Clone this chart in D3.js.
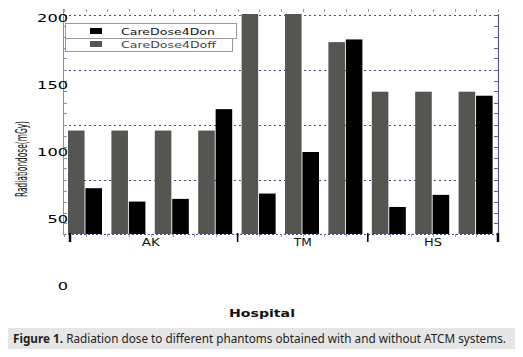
<!DOCTYPE html>
<html>
<head>
<meta charset="utf-8">
<script src="https://cdn.jsdelivr.net/npm/d3@7"></script>
<style>
  html, body { margin: 0; padding: 0; background: #fff; }
  svg { display: block; }
</style>
</head>
<body>
<svg id="chart" width="523" height="357"></svg>
<script>
// ---------- data ----------
const hospitals = ["AK", "TM", "HS"];
const pairHospital = ["AK", "AK", "AK", "AK", "TM", "TM", "TM", "HS", "HS", "HS"];
const doseOn  = [73, 63, 65, 132, 69, 100, 184, 59, 68, 142];   // CareDose4Don (black)
const doseOff = [116, 116, 116, 116, 203, 203, 182, 145, 145, 145]; // CareDose4Doff (gray)
const seriesNames = ["CareDose4Don", "CareDose4Doff"];
const yTickLabels = [0, 50, 100, 150, 200];
const gridValues = [50, 100, 150, 200];
const yTitle = "Radiationdose(mGy)";
const xTitle = "Hospital";
const captionBold = "Figure 1.";
const captionRest = " Radiation dose to different phantoms obtained with and without ATCM systems.";

// ---------- layout ----------
const svg = d3.select("#chart");
const plotLeft = 64, plotRight = 498, plotTop = 14, plotBottom = 234;
const colOn = "#000000", colOff = "#555651";
const axisCol = "#5a5a8c", gridCol = "#4a4a80";

const pairs = d3.range(doseOn.length);
const x = d3.scaleBand().domain(pairs).range([plotLeft, plotRight]);
const xSub = d3.scaleBand().domain(["off", "on"]).range([4, 38]).paddingInner(0.05);
// scale used for tick labels and bars
const y = d3.scaleLinear().domain([0, 200]).range([286, 18]);
// scale used for the grid lines and frame ticks
const yGrid = d3.scaleLinear().domain([0, 200]).range([plotBottom + 0.5, plotTop + 0.5]);

// grid lines
svg.append("g").selectAll("line").data(gridValues).join("line")
  .attr("x1", plotLeft).attr("x2", plotRight)
  .attr("y1", d => Math.round(yGrid(d)) + 0.5).attr("y2", d => Math.round(yGrid(d)) + 0.5)
  .attr("stroke", gridCol).attr("stroke-width", 1).attr("stroke-dasharray", "2,3");

// bottom dotted axis line
svg.append("line").attr("x1", plotLeft).attr("x2", plotRight)
  .attr("y1", plotBottom + 0.5).attr("y2", plotBottom + 0.5)
  .attr("stroke", gridCol).attr("stroke-dasharray", "2,2");

// left & right frame lines with minor ticks
svg.append("line").attr("x1", plotLeft - 0.5).attr("x2", plotLeft - 0.5).attr("y1", 9).attr("y2", plotBottom + 1)
  .attr("stroke", "#8a8ab0");
svg.append("line").attr("x1", plotRight + 0.5).attr("x2", plotRight + 0.5).attr("y1", plotTop).attr("y2", plotBottom + 1)
  .attr("stroke", axisCol).attr("stroke-width", 1.2);
const minor = d3.range(10, 201, 10);
svg.append("g").selectAll("line").data(minor).join("line")
  .attr("x1", plotLeft).attr("x2", plotLeft + 3)
  .attr("y1", d => Math.round(yGrid(d)) + 0.5).attr("y2", d => Math.round(yGrid(d)) + 0.5)
  .attr("stroke", "#8a8ab0");
svg.append("g").selectAll("line").data(minor).join("line")
  .attr("x1", plotRight - 4).attr("x2", plotRight)
  .attr("y1", d => Math.round(yGrid(d)) + 0.5).attr("y2", d => Math.round(yGrid(d)) + 0.5)
  .attr("stroke", axisCol);

// top and bottom small ticks every half band
const halfTicks = d3.range(0, pairs.length * 2 + 1).map(i => plotLeft + i * x.step() / 2);
svg.append("g").selectAll("line").data(halfTicks).join("line")
  .attr("x1", d => Math.round(d) + 0.5).attr("x2", d => Math.round(d) + 0.5)
  .attr("y1", 9).attr("y2", 12).attr("stroke", "#9a9ac0");
svg.append("g").selectAll("line").data(halfTicks).join("line")
  .attr("x1", d => Math.round(d) + 0.5).attr("x2", d => Math.round(d) + 0.5)
  .attr("y1", plotBottom).attr("y2", plotBottom + 3).attr("stroke", "#9a9ac0");

// bars
const gBars = svg.append("g");
pairs.forEach(i => {
  const x0 = x(i);
  gBars.append("rect")
    .attr("x", x0 + xSub("off")).attr("width", xSub.bandwidth())
    .attr("y", y(doseOff[i])).attr("height", Math.max(0, plotBottom - y(doseOff[i])))
    .attr("fill", colOff);
  gBars.append("rect")
    .attr("x", x0 + xSub("on")).attr("width", xSub.bandwidth())
    .attr("y", y(doseOn[i])).attr("height", Math.max(0, plotBottom - y(doseOn[i])))
    .attr("fill", colOn);
});

// hospital group boundaries (black ticks) and labels
const groups = hospitals.map(h => {
  const idx = pairs.filter(i => pairHospital[i] === h);
  return { h, x0: x(idx[0]), x1: x(idx[idx.length - 1]) + x.bandwidth() };
});
const bounds = [groups[0].x0 + 6, ...groups.map(g => g.x1)];
svg.append("g").selectAll("line").data(bounds).join("line")
  .attr("x1", d => d).attr("x2", d => d)
  .attr("y1", plotBottom - 1).attr("y2", plotBottom + 8)
  .attr("stroke", "#000").attr("stroke-width", (d, i) => (i === 0 || i === bounds.length - 1) ? 2.5 : 1.5);
svg.append("g").selectAll("text").data(groups).join("text")
  .attr("x", g => (g.x0 + g.x1) / 2).attr("y", 246)
  .attr("text-anchor", "middle")
  .attr("font-family", "DejaVu Sans").attr("font-size", 10)
  .attr("textLength", 18).attr("lengthAdjust", "spacingAndGlyphs")
  .attr("fill", "#111")
  .text(g => g.h);

// y tick labels (axis)
const yAxis = d3.axisLeft(y).tickValues(yTickLabels).tickSize(0).tickPadding(0).tickFormat(d3.format("d"));
const gy = svg.append("g").attr("transform", "translate(68,0)").call(yAxis);
gy.select(".domain").remove();
gy.selectAll("text")
  .attr("font-family", "DejaVu Sans").attr("font-size", 11).attr("fill", "#000")
  .attr("textLength", d => String(d).length * 10.3).attr("lengthAdjust", "spacingAndGlyphs");

// y title
svg.append("text")
  .attr("transform", "translate(26.5,159) rotate(-90)")
  .attr("text-anchor", "middle")
  .attr("font-family", "DejaVu Sans").attr("font-size", 15)
  .attr("textLength", 76).attr("lengthAdjust", "spacingAndGlyphs")
  .attr("fill", "#111")
  .text(yTitle);

// x title
svg.append("text")
  .attr("x", 262).attr("y", 316.5).attr("text-anchor", "middle")
  .attr("font-family", "DejaVu Sans").attr("font-size", 11).attr("font-weight", "bold")
  .attr("textLength", 66).attr("lengthAdjust", "spacingAndGlyphs")
  .attr("fill", "#111")
  .text(xTitle);

// legend
const lg = svg.append("g");
lg.append("rect").attr("x", 65.5).attr("y", 23.5).attr("width", 171).attr("height", 15)
  .attr("fill", "#fff").attr("stroke", "#999");
lg.append("rect").attr("x", 65.5).attr("y", 38.5).attr("width", 167).attr("height", 13)
  .attr("fill", "#fff").attr("stroke", "#999");
const legItems = [
  { name: seriesNames[0], color: colOn, sy: 28, ty: 35, tc: "#111", len: 94 },
  { name: seriesNames[1], color: colOff, sy: 41, ty: 48, tc: "#444", len: 95 }
];
legItems.forEach(it => {
  lg.append("rect").attr("x", 90).attr("y", it.sy).attr("width", 12).attr("height", 6).attr("fill", it.color);
  lg.append("text").attr("x", 121).attr("y", it.ty)
    .attr("font-family", "DejaVu Sans").attr("font-size", 9.5)
    .attr("textLength", it.len).attr("lengthAdjust", "spacingAndGlyphs")
    .attr("fill", it.tc).text(it.name);
});

// caption
svg.append("rect").attr("x", 8).attr("y", 328).attr("width", 507).attr("height", 21).attr("fill", "#e6e6e6");
const cap = svg.append("text").attr("x", 13).attr("y", 343)
  .attr("font-family", "Noto Sans").attr("font-size", 12).attr("fill", "#231f20")
  .attr("textLength", 493).attr("lengthAdjust", "spacingAndGlyphs");
cap.append("tspan").attr("font-weight", "bold").text(captionBold);
cap.append("tspan").text(captionRest);
</script>
</body>
</html>
